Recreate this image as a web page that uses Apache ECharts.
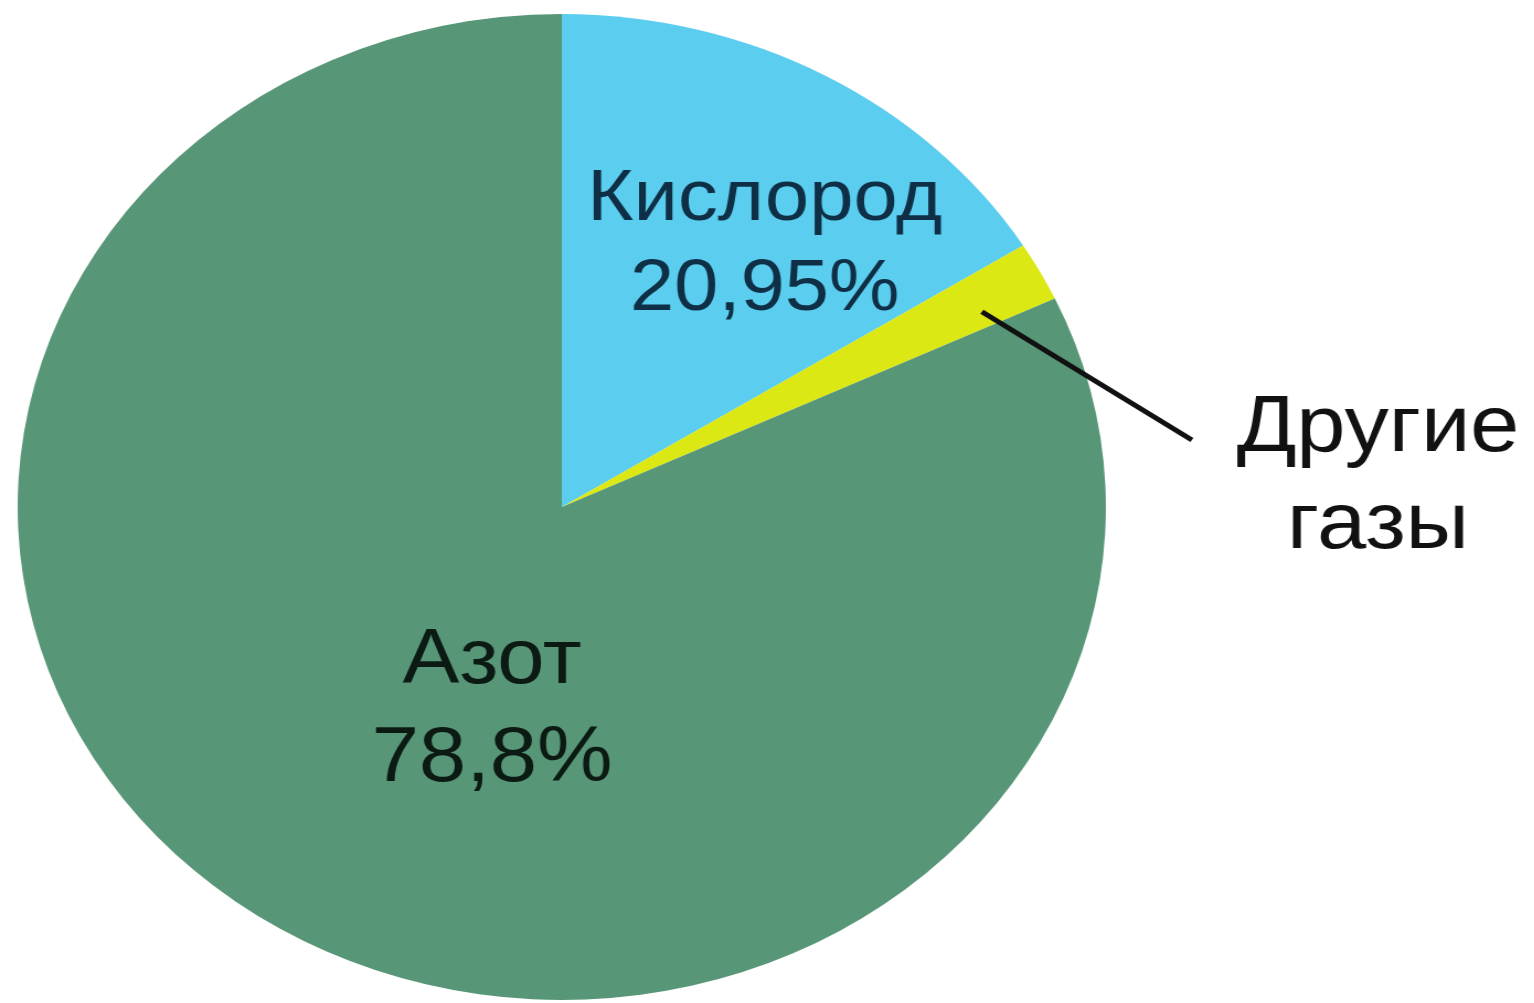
<!DOCTYPE html>
<html>
<head>
<meta charset="utf-8">
<script src="https://cdn.jsdelivr.net/npm/echarts@6/dist/echarts.min.js"></script>
<style>
  html, body { margin: 0; padding: 0; background: #ffffff; overflow: hidden; }
  /* the reference pie is an ellipse (stretched horizontally) */
  #chart { width: 1390px; height: 1003px; transform: scaleX(1.1037); transform-origin: 0 0; }
</style>
</head>
<body>
<div id="chart"></div>
<script>
// ---- data ----
// clockwise from 12 o'clock: Кислород, Другие газы, Азот
const categories = ['Кислород', 'Другие газы', 'Азот'];
// slice shares as drawn in the picture (percent of the full circle)
const shares = [16.1, 1.95, 81.95];
// percentage texts printed on the chart
const printedPercents = ['20,95%', '', '78,8%'];

// ---- styles ----
const colors = ['#5bcdee', '#dce814', '#589678'];
const textColors = ['#0e2f45', '#111111', '#0b1a12'];
const fontSizes = [72, 80, 77];
const lineHeights = [90, 97, 98];
const CX = 509, CY = 507, R = 493;
// label anchors in units of the radius, relative to the pie centre
const labelAnchors = [[0.373, -0.531], [1.5, -0.06], [-0.128, 0.414]];
const guideLine = [[0.772, -0.396], [1.158, -0.136]];
const OUTSIDE = 1;

const chart = echarts.init(document.getElementById('chart'), null, { renderer: 'canvas' });

const toPx = p => [CX + p[0] * R, CY + p[1] * R];
const fmt = p => {
  const t = p.name.split(' ').join('\n');
  const pct = printedPercents[p.dataIndex];
  return pct ? t + '\n' + pct : t;
};
const baseLabel = {
  fontFamily: '"Liberation Sans", Arial, sans-serif',
  fontWeight: 'normal',
  align: 'center',
  formatter: fmt
};
const layout = params => {
  const i = params.dataIndex;
  const pos = toPx(labelAnchors[i]);
  const out = { x: pos[0], y: pos[1], align: 'center', verticalAlign: 'middle' };
  if (i === OUTSIDE) out.labelLinePoints = guideLine.map(toPx);
  return out;
};

// main pie: the slices and the inside labels
const sliceData = categories.map((name, i) => ({
  name: name,
  value: shares[i],
  itemStyle: { color: colors[i] },
  label: {
    show: i !== OUTSIDE,
    position: 'inside',
    color: textColors[i],
    fontSize: fontSizes[i],
    lineHeight: lineHeights[i]
  }
}));

// overlay pie (same values, invisible slices) carrying the outside label and its
// leader line, so that the line is drawn on top of the slices
const overlayData = categories.map((name, i) => ({
  name: name,
  value: shares[i],
  label: {
    show: i === OUTSIDE,
    color: textColors[i],
    fontSize: fontSizes[i],
    lineHeight: lineHeights[i]
  }
}));

const common = {
  type: 'pie',
  center: [CX, CY],
  radius: [0, R],
  startAngle: 90,
  clockwise: true,
  avoidLabelOverlap: false,
  emphasis: { disabled: true },
  labelLayout: layout
};

chart.setOption({
  backgroundColor: '#ffffff',
  animation: false,
  series: [
    Object.assign({}, common, {
      z: 2,
      itemStyle: { borderWidth: 0 },
      label: Object.assign({ position: 'inside' }, baseLabel),
      labelLine: { show: false },
      data: sliceData
    }),
    Object.assign({}, common, {
      z: 5,
      silent: true,
      itemStyle: { color: 'rgba(0,0,0,0)', borderWidth: 0 },
      label: Object.assign({ position: 'outside' }, baseLabel),
      labelLine: { show: true, smooth: false, lineStyle: { color: '#111111', width: 5 } },
      data: overlayData
    })
  ]
});
</script>
</body>
</html>
